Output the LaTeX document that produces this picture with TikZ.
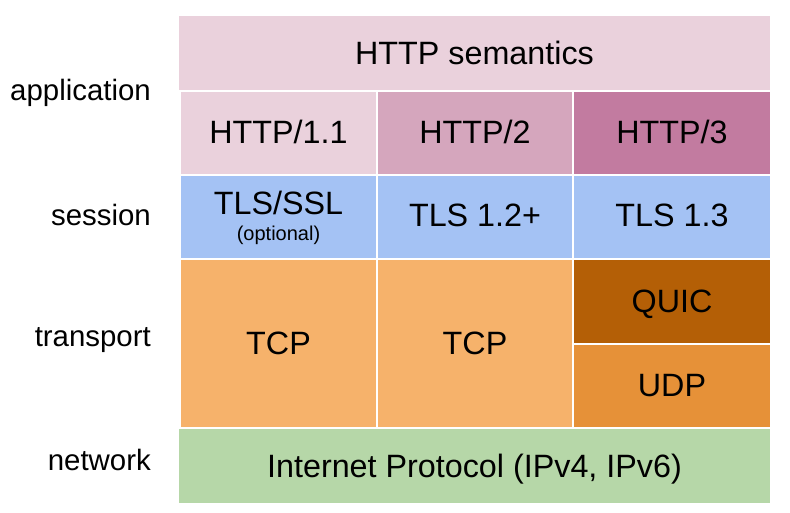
\documentclass[tikz,border=0pt]{standalone}
\usepackage{fontspec}
\setmainfont{Liberation Sans}
\definecolor{semc}{HTML}{EAD1DC}
\definecolor{httpa}{HTML}{EAD1DC}
\definecolor{httpb}{HTML}{D5A6BD}
\definecolor{httpc}{HTML}{C27BA0}
\definecolor{tlsc}{HTML}{A4C2F4}
\definecolor{tcpc}{HTML}{F6B26B}
\definecolor{quicc}{HTML}{B45F06}
\definecolor{udpc}{HTML}{E69138}
\definecolor{ipc}{HTML}{B6D7A8}
\begin{document}
\begin{tikzpicture}[x=1pt,y=-1pt,
  box/.style={draw=none, inner sep=0pt, outer sep=0pt, rectangle},
  boxtext/.style={anchor=base, inner sep=0pt, font=\fontsize{32.3}{37}\selectfont},
  smalltext/.style={anchor=base, inner sep=0pt, font=\fontsize{20}{24}\selectfont},
  layerlabel/.style={anchor=base east, inner sep=0pt, font=\fontsize{29.4}{34}\selectfont}]
\useasboundingbox (0,0) rectangle (790,513);
% boxes
\node[box, fill=semc, minimum width=591pt, minimum height=74pt] (sem) at (474.5,53) {};
\node[box, fill=httpa, minimum width=195pt, minimum height=82pt] (h1) at (278.5,133) {};
\node[box, fill=httpb, minimum width=194pt, minimum height=82pt] (h2) at (475,133) {};
\node[box, fill=httpc, minimum width=196pt, minimum height=82pt] (h3) at (672,133) {};
\node[box, fill=tlsc, minimum width=195pt, minimum height=82pt] (t1) at (278.5,217) {};
\node[box, fill=tlsc, minimum width=194pt, minimum height=82pt] (t2) at (475,217) {};
\node[box, fill=tlsc, minimum width=196pt, minimum height=82pt] (t3) at (672,217) {};
\node[box, fill=tcpc, minimum width=195pt, minimum height=167pt] (c1) at (278.5,343.5) {};
\node[box, fill=tcpc, minimum width=194pt, minimum height=167pt] (c2) at (475,343.5) {};
\node[box, fill=quicc, minimum width=196pt, minimum height=82.5pt] (q) at (672,301.25) {};
\node[box, fill=udpc, minimum width=196pt, minimum height=82.5pt] (u) at (672,385.75) {};
\node[box, fill=ipc, minimum width=591pt, minimum height=74pt] (ip) at (474.5,466) {};
% texts
\node[boxtext] (semtx) at (474.5,64.3) {HTTP semantics};
\node[boxtext] (h1tx) at (278.5,144) {HTTP/1.1};
\node[boxtext] (h2tx) at (475,144) {HTTP/2};
\node[boxtext] (h3tx) at (672,144) {HTTP/3};
\node[boxtext] (t1tx) at (278.5,215) {TLS/SSL};
\node[smalltext] (t1opt) at (278.5,240.7) {(optional)};
\node[boxtext] (t2tx) at (475,226.7) {TLS 1.2+};
\node[boxtext] (t3tx) at (672,226.7) {TLS 1.3};
\node[boxtext] (c1tx) at (278.5,354.3) {TCP};
\node[boxtext] (c2tx) at (475,354.3) {TCP};
\node[boxtext] (qtx) at (672,312.7) {QUIC};
\node[boxtext] (utx) at (672,396.7) {UDP};
\node[boxtext] (iptx) at (474.5,477.5) {Internet Protocol (IPv4, IPv6)};
% layer labels
\node[layerlabel] (lapp) at (151,100.7) {application};
\node[layerlabel] (lses) at (151,226) {session};
\node[layerlabel] (ltra) at (151,346) {transport};
\node[layerlabel] (lnet) at (151,470.7) {network};
\end{tikzpicture}
\end{document}
